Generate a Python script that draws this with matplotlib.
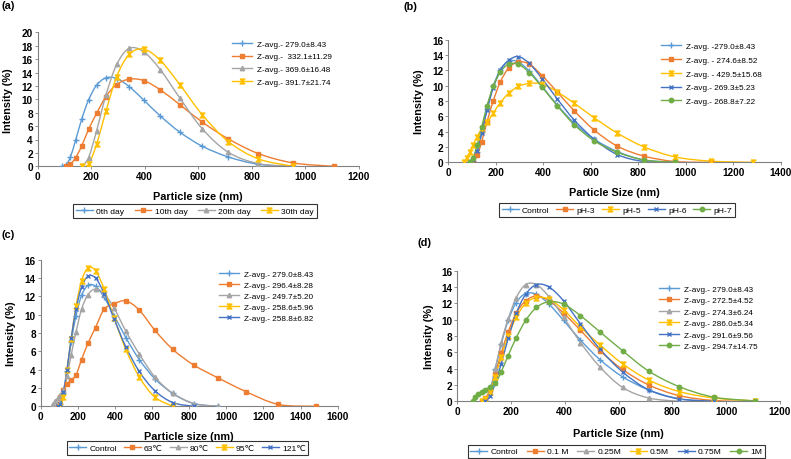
import numpy as np
import matplotlib
matplotlib.use("Agg")
import matplotlib.pyplot as plt
from matplotlib.path import Path
from matplotlib.patches import PathPatch
from matplotlib.lines import Line2D

plt.rcParams['font.family'] = ['Liberation Sans', 'DejaVu Sans']

# DLS size bins (nm)
SIZE_BINS = [58.77, 68.06, 78.82, 91.28, 105.7, 122.4, 141.8, 164.2, 190.1, 220.2,
             255.0, 295.3, 342.0, 396.1, 458.7, 531.2, 615.1, 712.4, 825.0, 955.4,
             1106.0, 1281.0, 1484.0]

# control sample, shared by all panels (starts at 91.28 nm)
control = [0, 0.2, 1.4, 3.9, 7.0, 9.9, 12.1, 13.2, 13.1, 11.9, 9.9, 7.5, 5.1, 3.0, 1.4, 0.3, 0]

# (a) storage days
day10 = [0, 0.3, 1.3, 3.0, 5.5, 7.9, 10.4, 12.2, 13.0, 12.8, 11.4, 9.2, 6.6, 4.1, 1.9, 0.5, 0]   # from 105.7
day20 = [0, 1.3, 5.3, 10.6, 15.2, 17.6, 17.1, 14.4, 10.2, 5.6, 2.1, 0.4, 0]                      # from 164.2
day30 = [0, 0.3, 3.3, 8.2, 13.4, 16.7, 17.5, 15.8, 12.2, 7.7, 3.7, 1.1, 0]                       # from 164.2
labels_a = ['0th day', '10th day', '20th day', '30th day']
zavg_a = ['Z-avg.- 279.0±8.43', 'Z-avg.-  332.1±11.29', 'Z-avg.- 369.6±16.48', 'Z-avg.- 391.7±21.74']

# (b) pH
ph3 = [0, 0.9, 2.7, 5.3, 8.0, 10.5, 12.3, 13.1, 12.8, 11.3, 9.2, 6.7, 4.2, 2.1, 0.8, 0.1, 0]      # from 105.7
ph5 = [0, 0.6, 1.3, 2.3, 3.3, 4.4, 5.2, 6.4, 7.8, 9.0, 9.9, 10.3, 10.2, 9.2, 7.7, 5.8, 3.8,
       2.0, 0.7, 0.15, 0]                                                                        # from 68.06
ph6 = [0, 0.3, 1.5, 3.8, 6.8, 9.7, 12.0, 13.3, 13.8, 12.9, 10.9, 8.3, 5.5, 3.0, 1.0, 0.1, 0]      # from 91.28
ph7 = [0, 0.6, 2.2, 4.6, 7.4, 9.9, 11.8, 12.8, 12.8, 11.7, 9.8, 7.4, 4.9, 2.8, 1.3, 0.3, 0]       # from 91.28
labels_b = ['Control', 'pH-3', 'pH-5', 'pH-6', 'pH-7']
zavg_b = ['Z-avg. -279.0±8.43', 'Z-avg. - 274.6±8.52', 'Z-avg. - 429.5±15.68',
          'Z-avg.- 269.3±5.23', 'Z-avg.- 268.8±7.22']

# (c) temperature
t63 = [0, 1.0, 1.8, 2.4, 2.9, 3.4, 5.1, 6.9, 8.6, 10.6, 11.2, 11.5, 10.5, 8.3, 6.2, 4.5, 3.1,
       1.6, 0.2, 0]                                                                              # from 91.28
t80 = [0, 0.3, 0.6, 0.9, 1.2, 1.8, 3.3, 5.6, 8.1, 10.6, 12.2, 12.8, 12.3, 10.7, 8.2, 5.7, 3.2,
       1.4, 0.3, 0]                                                                              # from 58.77
t95 = [0, 1.0, 4.0, 7.3, 10.9, 13.7, 15.1, 14.8, 12.8, 9.6, 6.2, 3.2, 1.0, 0]                    # from 105.7
t121 = [0, 0.3, 1.6, 4.0, 7.4, 10.6, 13.0, 14.2, 14.0, 12.3, 9.5, 6.5, 3.8, 1.7, 0.4, 0]         # from 91.28
labels_c = ['Control', '63\u2103', '80\u2103', '95\u2103', '121\u2103']
zavg_c = ['Z-avg.- 279.0±8.43', 'Z-avg.- 296.4±8.28', 'Z-avg.- 249.7±5.20',
          'Z-avg.- 258.6±5.96', 'Z-avg.- 258.8±6.82']

# (d) salt concentration
m01 = [0, 0.4, 1.4, 3.3, 5.9, 8.5, 10.8, 12.3, 12.9, 12.3, 10.8, 8.7, 6.2, 3.9, 2.0, 0.7, 0.1, 0]  # from 91.28
m025 = [0, 1.2, 3.9, 7.2, 10.1, 12.7, 14.3, 14.3, 12.8, 10.3, 7.2, 4.2, 1.7, 0.4, 0]              # from 105.7
m05 = [0, 0.3, 1.2, 3.0, 5.4, 8.0, 10.3, 12.0, 12.7, 12.5, 11.2, 9.1, 6.9, 4.6, 2.6, 1.2, 0.4,
       0.05]                                                                                     # from 91.28
m075 = [0, 0.6, 2.2, 4.6, 7.7, 10.8, 13.1, 14.3, 14.0, 12.3, 9.5, 6.4, 3.6, 1.4, 0.3, 0]         # from 105.7
m1 = [0, 0.5, 0.9, 1.2, 1.4, 1.8, 2.2, 3.6, 5.6, 7.8, 9.9, 11.5, 12.2, 11.9, 10.5, 8.5, 6.2,
      3.7, 1.8, 0.5, 0.05]                                                                       # from 58.77
labels_d = ['Control', '0.1 M', '0.25M', '0.5M', '0.75M', '1M']
zavg_d = ['Z-avg.- 279.0±8.43', 'Z-avg.- 272.5±4.52', 'Z-avg.- 274.3±6.24',
          'Z-avg.- 286.0±5.34', 'Z-avg.- 291.6±9.56', 'Z-avg.- 294.7±14.75']

BLUE, ORANGE, GRAY, YELLOW, DBLUE, GREEN = '#5B9BD5', '#ED7D31', '#A5A5A5', '#FFC000', '#4472C4', '#70AD47'
HOURGLASS = [(-1, 1), (1, 1), (-1, -1), (1, -1), (-1, 1)]
STYLE = {
    'ctrl': (BLUE, '+', 4.5),
    'sq': (ORANGE, 's', 3.2),
    'tri': (GRAY, '^', 3.2),
    'hg': (YELLOW, HOURGLASS, 3.5),
    'x': (DBLUE, 'x', 3.5),
    'dot': (GREEN, 'o', 3.2),
}

W, H = 791, 460
fig = plt.figure(figsize=(W / 100, H / 100), dpi=100)


def pos(x0, x1, y0, y1):
    return [x0 / W, 1 - y1 / H, (x1 - x0) / W, (y1 - y0) / H]


def xs_from(start, n):
    i = SIZE_BINS.index(start)
    return SIZE_BINS[i:i + n]


def smooth_path(x, y):
    # excel-like smoothed line (catmull-rom as cubic bezier)
    p = np.column_stack([x, y]).astype(float)
    n = len(p)
    verts, codes = [p[0]], [Path.MOVETO]
    for i in range(n - 1):
        p0 = p[i - 1] if i > 0 else p[i]
        p3 = p[i + 2] if i + 2 < n else p[i + 1]
        verts += [p[i] + (p[i + 1] - p0) / 6, p[i + 1] - (p3 - p[i]) / 6, p[i + 1]]
        codes += [Path.CURVE4] * 3
    return Path(verts, codes)


def panel(rect, series, labels, zavg, xmax, xstep, ymax, tag, tagxy, ylab_x, xlab_y,
          leg_c, zleg_xy, zspacing, xlabel, colsp):
    ax = fig.add_axes(pos(*rect))
    handles = []
    for (start, vals, key) in series:
        color, marker, ms = STYLE[key]
        x = xs_from(start, len(vals))
        ax.add_patch(PathPatch(smooth_path(x, vals), fill=False, edgecolor=color, lw=1.0, zorder=2))
        ax.plot(x, vals, ls='none', marker=marker, ms=ms, color=color, mew=1.0, zorder=3)
        handles.append(Line2D([], [], color=color, lw=1.0, marker=marker, ms=ms, mew=1.0))
    ax.set_xlim(0, xmax)
    ax.set_ylim(0, ymax)
    ax.set_xticks(np.arange(0, xmax + 1, xstep))
    ax.set_yticks(np.arange(0, ymax + 1, 2))
    for s in ['top', 'right']:
        ax.spines[s].set_visible(False)
    for s in ['left', 'bottom']:
        ax.spines[s].set_color('#808080')
        ax.spines[s].set_linewidth(0.8)
    ax.tick_params(labelsize=7.2, length=2, width=0.6, color='#808080', pad=1.5)
    for t in ax.get_xticklabels() + ax.get_yticklabels():
        t.set_fontweight('bold')
    ax.set_xlabel(xlabel, fontsize=7.8, fontweight='bold')
    ax.set_ylabel('Intensity (%)', fontsize=7.8, fontweight='bold')
    ax.xaxis.set_label_coords((rect[0] + rect[1]) / 2 / W, 1 - xlab_y / H, transform=fig.transFigure)
    ax.yaxis.set_label_coords(ylab_x / W, 1 - (rect[2] + rect[3]) / 2 / H, transform=fig.transFigure)
    fig.text(tagxy[0] / W, 1 - tagxy[1] / H, tag, fontsize=7.8, fontweight='bold', va='center')

    leg = ax.legend(handles, labels, loc='center', bbox_to_anchor=(leg_c[0] / W, 1 - leg_c[1] / H),
                    bbox_transform=fig.transFigure, ncol=len(labels), fontsize=6.1,
                    frameon=True, fancybox=False, edgecolor='black', handlelength=2.0,
                    columnspacing=colsp, handletextpad=0.4, borderpad=0.3)
    leg.get_frame().set_linewidth(0.8)
    ax.add_artist(leg)
    ax.legend(handles, zavg, loc='upper left', bbox_to_anchor=(zleg_xy[0] / W, 1 - zleg_xy[1] / H),
              bbox_transform=fig.transFigure, fontsize=5.9, frameon=False, handlelength=2.4,
              handletextpad=0.6, labelspacing=zspacing, borderpad=0)
    return ax


panel((37.7, 358.7, 33.3, 167.3),
      [(91.28, control, 'ctrl'), (105.7, day10, 'sq'), (164.2, day20, 'tri'), (164.2, day30, 'hg')],
      labels_a, zavg_a, 1200, 200, 20, '(a)', (1, 6), 13, 192, (195, 212), (228, 37), 0.6,
      'Particle size (nm)', 1.2)

panel((448, 781, 40.7, 163.3),
      [(91.28, control, 'ctrl'), (105.7, ph3, 'sq'), (68.06, ph5, 'hg'), (91.28, ph6, 'x'),
       (91.28, ph7, 'dot')],
      labels_b, zavg_b, 1400, 200, 16, '(b)', (404, 7), 424, 188, (617, 211), (657, 39), 0.75,
      'Particle Size (nm)', 0.8)

panel((40.7, 337.7, 260.7, 407.3),
      [(91.28, control, 'ctrl'), (91.28, t63, 'sq'), (58.77, t80, 'tri'), (105.7, t95, 'hg'),
       (91.28, t121, 'x')],
      labels_c, zavg_c, 1600, 200, 16, '(c)', (1, 235), 16, 432, (187.5, 449), (215, 267), 0.4,
      'Particle size (nm)', 0.8)

panel((457, 780, 271.7, 402.3),
      [(91.28, control, 'ctrl'), (91.28, m01, 'sq'), (105.7, m025, 'tri'), (91.28, m05, 'hg'),
       (105.7, m075, 'x'), (58.77, m1, 'dot')],
      labels_d, zavg_d, 1200, 200, 16, '(d)', (417, 243), 434, 429, (616.5, 452.5), (655, 282), 0.45,
      'Particle Size (nm)', 1.0)

fig.savefig('out.png', dpi=100)
